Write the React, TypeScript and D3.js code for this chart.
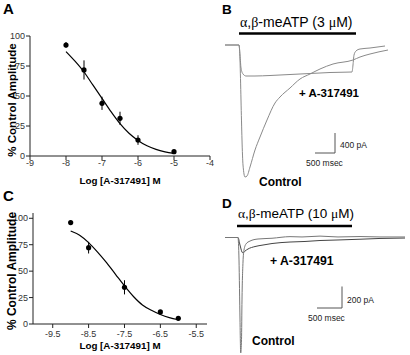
import React from "react";
import * as d3 from "d3";

// ---------- Panel A: dose-response (3 uM agonist) ----------
const aDoseX = [-8, -7.5, -7, -6.5, -6, -5];
const aMean = [92.5, 71.7, 43.9, 31.4, 13.3, 3.6];
const aErr = [2.5, 8, 5.5, 5.5, 4, 1.5];
const aFitX = [-8, -7.75, -7.5, -7.25, -7, -6.75, -6.5, -6.25, -6, -5.75, -5.5, -5.25, -5];
const aFitY = [87, 79, 70, 59, 48, 37, 27, 19, 13, 8.5, 5.5, 3.5, 2.2];
const aXTicks = [-9, -8, -7, -6, -5, -4];

// ---------- Panel C: dose-response (10 uM agonist) ----------
const cDoseX = [-9, -8.5, -7.5, -6.5, -6];
const cMean = [95.9, 72.2, 34.7, 11.4, 5.4];
const cErr = [2, 5.5, 6.7, 1.5, 1];
const cFitX = [-9, -8.75, -8.5, -8.25, -8, -7.75, -7.5, -7.25, -7, -6.75, -6.5, -6.25, -6];
const cFitY = [88, 84, 77, 68, 58, 47, 36, 26, 18, 13, 9, 6, 4];
const cXTicks = [-9.5, -8.5, -7.5, -6.5, -5.5];

const yTicks = [0, 25, 50, 75, 100];

// ---------- Panel B: current traces (ms, pA) ----------
const bCtrlT = [0, 350, 375, 400, 425, 450, 500, 550, 625, 750, 875, 1050, 1250, 1375, 1625, 1875, 2125, 2375, 2700, 3200, 3375, 3625, 4075];
const bCtrlI = [0, 0, -300, -1100, -1900, -2400, -2640, -2620, -2440, -2100, -1840, -1500, -1160, -1040, -860, -680, -580, -480, -380, -300, -240, -180, -100];
const bDrugT = [0, 350, 375, 400, 450, 525, 750, 1125, 1625, 2125, 2625, 3175, 3200, 3225, 3275, 3375, 3625, 4000];
const bDrugI = [0, 0, -200, -460, -580, -620, -620, -610, -590, -570, -550, -540, -400, -200, -120, -80, -60, -20];
const bAgonist = [350, 3275]; // ms
const bScale = [500, 400]; // ms, pA

// ---------- Panel D: current traces (ms, pA) ----------
const dCtrlT = [0, 260, 280, 300, 314, 330, 340, 360, 380, 420, 500, 660, 940, 1300, 1540, 1900, 2260, 2700, 3100, 3600];
const dCtrlI = [0, 0, -209, -767, -1074, -950, -581, -228, -116, -60, -33, -14, -7, 8, 5, 13, 5, 9, 5, 5];
const dDrugT = [0, 260, 300, 340, 360, 400, 460, 600, 760, 940, 1300, 1600, 1900, 2260, 2700, 3100, 3600];
const dDrugI = [0, 0, -70, -135, -144, -126, -107, -84, -70, -56, -42, -37, -28, -23, -16, -9, -5];
const dAgonist = [240, 2540];
const dScale = [500, 200];

const FONT = "'Liberation Sans', Arial, Helvetica, sans-serif";

type DRProps = {
  xs: number[]; ys: number[]; errs: number[]; fitX: number[]; fitY: number[];
  xTicks: number[]; xDomain: [number, number]; xRange: [number, number];
  yMax: number; yRange: [number, number]; tickLabelY: number; titleY: number;
  yTitleCenter: number; yTitleSize: number; letter: string; letterY: number; tickFmt: (v: number) => string;
};

function DoseResponse(p: DRProps) {
  const x = d3.scaleLinear().domain(p.xDomain).range(p.xRange);
  const y = d3.scaleLinear().domain([0, p.yMax]).range(p.yRange);
  const fit = d3.line<number>().x((_, i) => x(p.fitX[i])).y((v) => y(v)).curve(d3.curveMonotoneX);
  const x0 = p.xRange[0];
  const y0 = p.yRange[0];
  return (
    <g fontFamily={FONT}>
      <text x={3} y={p.letterY} fontSize={15} fontWeight="bold">{p.letter}</text>
      <line x1={x0} x2={x0} y1={y0} y2={p.yRange[1]} stroke="#222" strokeWidth={1} />
      <line x1={x0} x2={p.xRange[1]} y1={y0} y2={y0} stroke="#222" strokeWidth={1} />
      {yTicks.map((t) => (
        <g key={"y" + t}>
          <line x1={x0 - 4} x2={x0} y1={y(t)} y2={y(t)} stroke="#222" />
          <text x={x0 - 5} y={y(t)} dy="0.35em" textAnchor="end" fontSize={9} fill="#333">{t}</text>
        </g>
      ))}
      {p.xTicks.map((t) => (
        <g key={"x" + t}>
          <line x1={x(t)} x2={x(t)} y1={y0} y2={y0 + 4} stroke="#222" />
          <text x={x(t)} y={p.tickLabelY} textAnchor="middle" fontSize={9} fill="#333">{p.tickFmt(t)}</text>
        </g>
      ))}
      <text x={(p.xRange[0] + p.xRange[1]) / 2} y={p.titleY} textAnchor="middle" fontSize={9.8} fontWeight="bold">Log [A-317491] M</text>
      <text transform={`translate(16,${p.yTitleCenter}) rotate(-90)`} textAnchor="middle" fontSize={p.yTitleSize} fontWeight="bold">% Control Amplitude</text>
      <path d={fit(p.fitY) || ""} fill="none" stroke="#000" strokeWidth={1.2} />
      {p.xs.map((v, i) => (
        <g key={"p" + i}>
          <line x1={x(v)} x2={x(v)} y1={y(p.ys[i] - p.errs[i])} y2={y(p.ys[i] + p.errs[i])} stroke="#000" strokeWidth={1} />
          <circle cx={x(v)} cy={y(p.ys[i])} r={2.6} fill="#000" />
        </g>
      ))}
    </g>
  );
}

type TRProps = {
  ctrlT: number[]; ctrlI: number[]; drugT: number[]; drugI: number[];
  msPerPx: number; pAPerPx: number; x0: number; y0: number;
  agonist: number[]; scale: number[]; letter: string; letterY: number;
  agLabel: string; agLabelY: number; agLabelSize: number; barY: number;
  scaleX: number; scaleY: number; drugLabel: [number, number, number]; ctrlLabel: [number, number];
  ctrlColor: string; drugColor: string;
};

function Traces(p: TRProps) {
  const tMax = 4600;
  const x = d3.scaleLinear().domain([0, tMax]).range([p.x0, p.x0 + tMax / p.msPerPx]);
  const y = d3.scaleLinear().domain([0, -3000]).range([p.y0, p.y0 + 3000 / p.pAPerPx]);
  const mk = (ts: number[]) => d3.line<number>().x((_, i) => x(ts[i])).y((v) => y(v)).curve(d3.curveMonotoneX);
  const sbW = x(p.scale[0]) - x(0);
  const sbH = y(-p.scale[1]) - y(0);
  const parts = p.agLabel.split(/(α|β|μ)/);
  return (
    <g fontFamily={FONT}>
      <text x={p.x0 - 3} y={p.letterY} fontSize={13.5} fontWeight="bold">{p.letter}</text>
      <text x={x(p.agonist[0]) + 1} y={p.agLabelY} fontSize={p.agLabelSize}>
        {parts.map((s, i) =>
          s === "α" || s === "β" || s === "μ" ? (
            <tspan key={i} fontFamily="'Liberation Serif', 'DejaVu Serif', serif">{s}</tspan>
          ) : (
            <tspan key={i}>{s}</tspan>
          )
        )}
      </text>
      <line x1={x(p.agonist[0])} x2={x(p.agonist[1])} y1={p.barY} y2={p.barY} stroke="#000" strokeWidth={2.6} />
      <path d={mk(p.drugT)(p.drugI) || ""} fill="none" stroke={p.drugColor} strokeWidth={1} />
      <path d={mk(p.ctrlT)(p.ctrlI) || ""} fill="none" stroke={p.ctrlColor} strokeWidth={1} />
      <line x1={p.scaleX} x2={p.scaleX} y1={p.scaleY - sbH} y2={p.scaleY} stroke="#555" />
      <line x1={p.scaleX - sbW} x2={p.scaleX} y1={p.scaleY} y2={p.scaleY} stroke="#555" />
      <text x={p.scaleX + 5} y={p.scaleY - 5} fontSize={8.5} fill="#222">{p.scale[1]} pA</text>
      <text x={p.scaleX - sbW - 9} y={p.scaleY + 13} fontSize={8.5} fill="#222">{p.scale[0]} msec</text>
      <text x={p.drugLabel[0]} y={p.drugLabel[1]} fontSize={p.drugLabel[2]} fontWeight="bold">+ A-317491</text>
      <text x={p.ctrlLabel[0]} y={p.ctrlLabel[1]} fontSize={12} fontWeight="bold">Control</text>
    </g>
  );
}

export default function App() {
  return (
    <svg width={410} height={355} style={{ position: "absolute", left: 0, top: 0, background: "#fff" }}>
      <rect width={410} height={355} fill="#fff" />
      <DoseResponse
        xs={aDoseX} ys={aMean} errs={aErr} fitX={aFitX} fitY={aFitY}
        xTicks={aXTicks} xDomain={[-9, -4]} xRange={[30, 210]}
        yMax={100} yRange={[156, 36]} tickLabelY={166} titleY={184}
        yTitleCenter={100} yTitleSize={11.5} letter="A" letterY={14}
        tickFmt={(v) => String(v)}
      />
      <DoseResponse
        xs={cDoseX} ys={cMean} errs={cErr} fitX={cFitX} fitY={cFitY}
        xTicks={cXTicks} xDomain={[-10.05, -5.2]} xRange={[33, 207]}
        yMax={105} yRange={[324, 213]} tickLabelY={337} titleY={349}
        yTitleCenter={271} yTitleSize={12} letter="C" letterY={201}
        tickFmt={(v) => v.toFixed(1)}
      />
      <Traces
        ctrlT={bCtrlT} ctrlI={bCtrlI} drugT={bDrugT} drugI={bDrugI}
        msPerPx={25} pAPerPx={20} x0={225} y0={45}
        agonist={bAgonist} scale={bScale} letter="B" letterY={14}
        agLabel="α,β-meATP (3 μM)" agLabelY={27} agLabelSize={14} barY={33.5}
        scaleX={335} scaleY={153} drugLabel={[299, 97, 11.5]} ctrlLabel={[259, 186]}
        ctrlColor="#8a8a8a" drugColor="#8a8a8a"
      />
      <Traces
        ctrlT={dCtrlT} ctrlI={dCtrlI} drugT={dDrugT} drugI={dDrugI}
        msPerPx={20} pAPerPx={9.3} x0={225} y0={237.5}
        agonist={dAgonist} scale={dScale} letter="D" letterY={208}
        agLabel="α,β-meATP (10 μM)" agLabelY={218} agLabelSize={13.5} barY={226}
        scaleX={342} scaleY={308} drugLabel={[270, 265, 12.2]} ctrlLabel={[252, 345]}
        ctrlColor="#777" drugColor="#444"
      />
    </svg>
  );
}
